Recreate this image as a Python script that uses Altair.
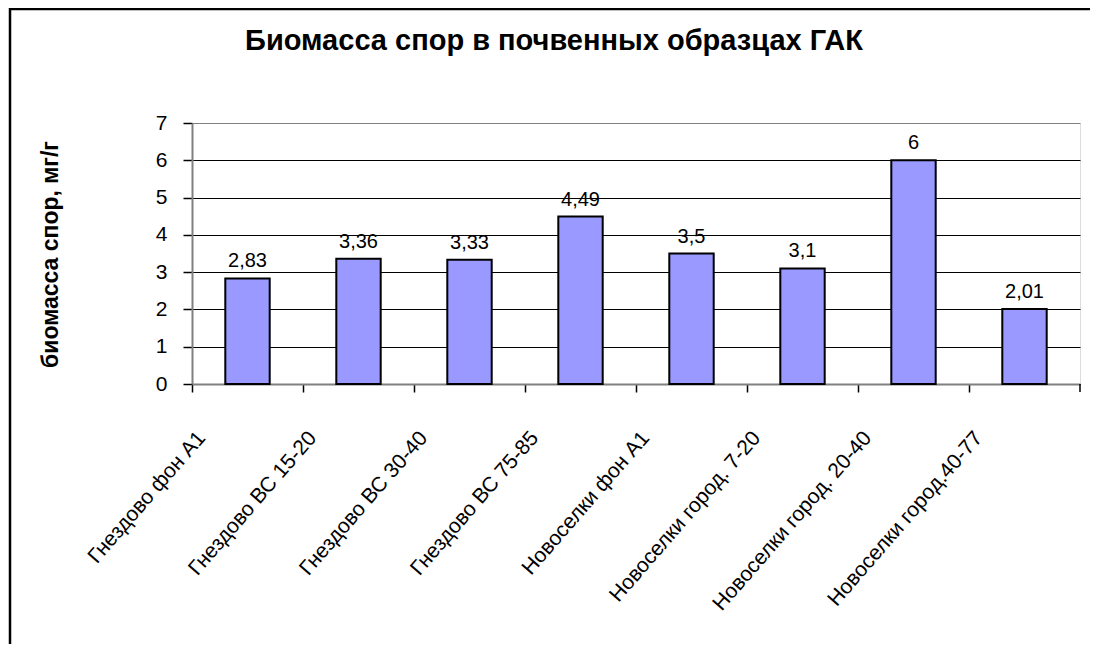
import altair as alt
import pandas as pd

categories = [
    "Гнездово фон А1",
    "Гнездово ВС 15-20",
    "Гнездово ВС 30-40",
    "Гнездово ВС 75-85",
    "Новоселки фон А1",
    "Новоселки город. 7-20",
    "Новоселки город. 20-40",
    "Новоселки город.40-77",
]
values = [2.83, 3.36, 3.33, 4.49, 3.5, 3.1, 6, 2.01]
y_ticks = [0, 1, 2, 3, 4, 5, 6, 7]

df = pd.DataFrame({
    "cat": categories,
    "val": values,
    "lbl": [("%g" % v).replace(".", ",") for v in values],
})

FONT = "Liberation Sans"
W, H = 888, 261

xenc = alt.X(
    "cat:N",
    sort=categories,
    scale=alt.Scale(paddingInner=0, paddingOuter=0),
    axis=alt.Axis(
        title=None,
        bandPosition=0,
        labelOffset=-54,
        labelAngle=-49,
        labelAlign="right",
        labelBaseline="top",
        labelPadding=35,
        labelFontSize=21,
        labelFont=FONT,
        labelColor="black",
        labelLimit=400,
        tickColor="black",
        tickSize=8,
        tickWidth=1.5,
        domainColor="#808080",
        domainWidth=2,
        labelOverlap=False,
    ),
)

yenc = alt.Y(
    "val:Q",
    scale=alt.Scale(domain=[0, 7], nice=False),
    axis=alt.Axis(
        title="биомасса спор, мг/г",
        titleFont=FONT,
        titleFontSize=23,
        titleFontWeight="bold",
        titleColor="black",
        titleX=-142,
        titleY=131,
        titleAngle=-90,
        titleAlign="center",
        titleBaseline="middle",
        values=y_ticks,
        labelOverlap=False,
        labelFont=FONT,
        labelFontSize=21,
        labelColor="black",
        labelPadding=16,
        tickColor="black",
        tickSize=9,
        tickWidth=1.5,
        domainColor="#808080",
        domainWidth=2,
        grid=True,
        gridColor=alt.condition("datum.value == 7", alt.value("#808080"), alt.value("black")),
        gridWidth=1,
    ),
)

border = alt.Chart(alt.Data(values=[{"a": 1}])).mark_rect(
    fillOpacity=0, stroke="black", strokeWidth=2.5, clip=False
).encode(
    x=alt.value(-182), x2=alt.value(W + 40),
    y=alt.value(-114), y2=alt.value(H + 300),
)

# extra tick at the right end of the category axis
end_tick = alt.Chart(alt.Data(values=[{"a": 1}])).mark_rule(
    color="black", strokeWidth=1.5, clip=False
).encode(
    x=alt.value(W), y=alt.value(H), y2=alt.value(H + 8),
)

base = alt.Chart(df)

bars = base.mark_bar(
    color="#9999FF", stroke="black", strokeWidth=2,
    width=alt.RelativeBandSize(0.4),
).encode(x=xenc, y=yenc)

texts = base.mark_text(
    baseline="bottom", dy=-7, fontSize=20, font=FONT, color="black"
).encode(
    x=xenc,
    y=yenc,
    text="lbl:N",
)

chart = alt.layer(border, bars, texts, end_tick).properties(
    width=W,
    height=H,
    title=alt.TitleParams(
        "Биомасса спор в почвенных образцах ГАК",
        font=FONT,
        fontSize=29,
        fontWeight="bold",
        color="black",
        anchor="middle",
        frame="group",
        baseline="alphabetic",
        dx=-82,
        dy=71,
        offset=0,
    ),
    autosize=alt.AutoSizeParams(type="none"),
    padding={"left": 184, "top": 115, "right": 10, "bottom": 260},
).configure_view(
    stroke="#808080", strokeWidth=2
).configure(background="white")

chart.save("out.html", embed_options={"renderer": "svg", "actions": False})
